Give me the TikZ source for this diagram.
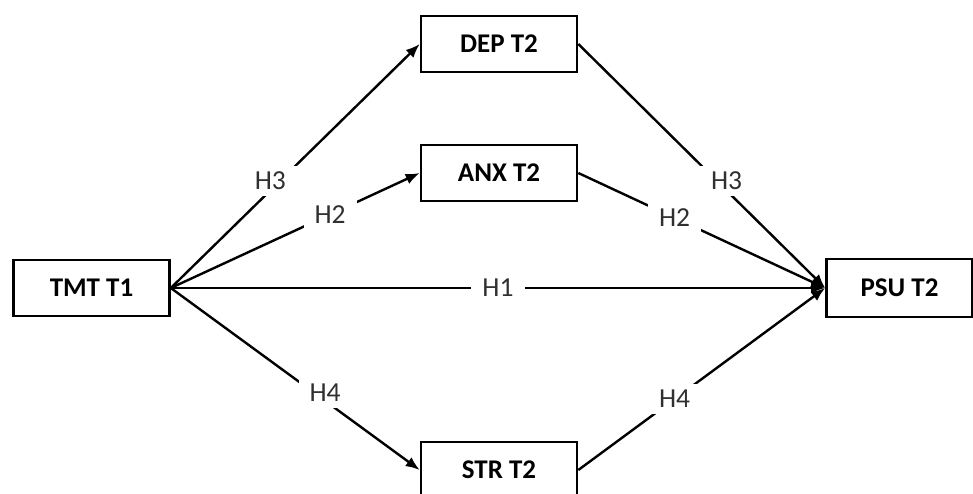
\documentclass[tikz,border=0pt]{standalone}
\usepackage{fontspec}
\setmainfont{Carlito}
\usetikzlibrary{arrows.meta}
\definecolor{labgray}{HTML}{303030}
\begin{document}
\begin{tikzpicture}[x=1pt,y=-1pt,
  box/.style={draw=black,line width=2.6pt,fill=white,minimum width=156pt,minimum height=56pt,inner sep=0pt,font=\fontsize{27}{30}\selectfont\bfseries},
  conn/.style={line width=2.4pt,-{Latex[length=14pt,width=11pt]}},
  lab/.style={fill=white,inner xsep=11pt,inner ysep=6pt,text=labgray,font=\fontsize{27.5}{30}\selectfont}]
\useasboundingbox (0,0) rectangle (973,493);
\clip (0,0) rectangle (973,493);
\node[box] (tmt) at (91.5,288) {TMT T1};
\node[box] (dep) at (499,44) {DEP T2};
\node[box] (anx) at (499,173) {ANX T2};
\node[box] (str) at (499,470) {STR T2};
\node[box,minimum width=146pt,minimum height=58pt] (psu) at (899.5,288) {PSU T2};
\draw[conn] (tmt.east) -- node[lab,pos=0.44,xshift=-10pt] {H3} (dep.west);
\draw[conn] (tmt.east) -- node[lab,pos=0.64] {H2} (anx.west);
\draw[conn] (tmt.east) -- node[lab,pos=0.5] {H1} (psu.west);
\draw[conn] (tmt.east) -- node[lab,pos=0.62,yshift=8pt] {H4} (str.west);
\draw[conn] (dep.east) -- node[lab,pos=0.56,xshift=10pt] {H3} (psu.west);
\draw[conn] (anx.east) -- node[lab,pos=0.39] {H2} (psu.west);
\draw[conn] (str.east) -- node[lab,pos=0.39] {H4} (psu.west);
\end{tikzpicture}
\end{document}
